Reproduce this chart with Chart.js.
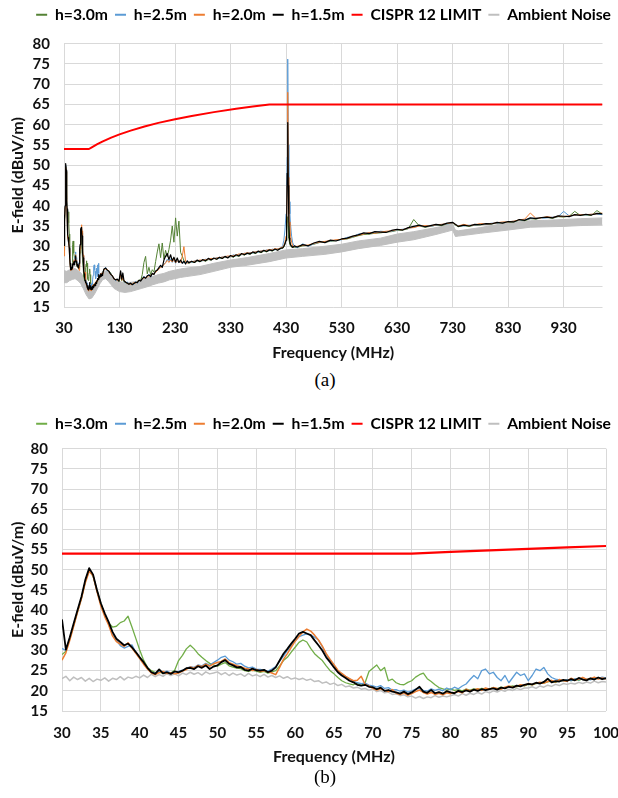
<!DOCTYPE html>
<html><head><meta charset="utf-8">
<script src="https://cdn.jsdelivr.net/npm/chart.js@4.4.1/dist/chart.umd.min.js"></script>
<style>
html,body{margin:0;padding:0;background:#fff;}
body{width:618px;height:798px;position:relative;overflow:hidden;}
.box{position:absolute;left:0;width:618px;}
.cap{position:absolute;left:0;width:650px;text-align:center;font-family:"Liberation Serif","Times New Roman",serif;font-size:19px;line-height:22px;color:#000;}
</style></head><body>
<div class="box" style="top:0;height:365px"><canvas id="ca"></canvas></div>
<div class="cap" style="top:369px">(a)</div>
<div class="box" style="top:409px;height:360px"><canvas id="cb"></canvas></div>
<div class="cap" style="top:766px">(b)</div>
<script>
// ---------- tick labels ----------
const xTicksA = [30,130,230,330,430,530,630,730,830,930];
const xTicksB = [30,35,40,45,50,55,60,65,70,75,80,85,90,95,100];
const yTicks = [15,20,25,30,35,40,45,50,55,60,65,70,75,80];

// ---------- (b) 30-100 MHz sweep ----------
const freqB = [
30,30.5,31,31.5,32,32.5,33,33.5,34,34.5,
35,35.5,36,36.5,37,37.5,38,38.5,39,39.5,
40,40.5,41,41.5,42,42.5,43,43.5,44,44.5,
45,45.5,46,46.5,47,47.5,48,48.5,49,49.5,
50,50.5,51,51.5,52,52.5,53,53.5,54,54.5,
55,55.5,56,56.5,57,57.5,58,58.5,59,59.5,
60,60.5,61,61.5,62,62.5,63,63.5,64,64.5,
65,65.5,66,66.5,67,67.5,68,68.5,69,69.5,
70,70.5,71,71.5,72,72.5,73,73.5,74,74.5,
75,75.5,76,76.5,77,77.5,78,78.5,79,79.5,
80,80.5,81,81.5,82,82.5,83,83.5,84,84.5,
85,85.5,86,86.5,87,87.5,88,88.5,89,89.5,
90,90.5,91,91.5,92,92.5,93,93.5,94,94.5,
95,95.5,96,96.5,97,97.5,98,98.5,99,99.5,
100];
const h30B = [
29.0,29.8,32.8,36.2,39.6,42.9,47.0,49.8,48.4,44.9,
41.6,39.0,36.8,35.8,36.0,36.9,37.3,38.5,35.8,33.0,
30.1,27.6,25.8,25.0,24.5,24.7,24.3,24.6,24.4,25.1,
27.5,28.8,30.4,31.3,30.4,29.2,28.3,27.5,26.8,26.4,
26.1,26.6,27.0,26.2,25.9,25.6,25.5,25.0,24.8,25.1,
24.9,24.6,24.8,24.4,24.7,25.0,26.2,27.5,28.3,29.6,
30.8,32.0,32.6,32.1,30.5,29.2,28.3,27.5,26.2,25.0,
24.2,23.3,22.5,22.0,21.7,21.5,21.9,21.3,22.0,24.8,
25.6,26.4,25.0,25.8,22.5,22.9,22.0,21.6,21.5,22.1,
22.5,23.4,24.0,24.4,23.0,22.3,21.5,20.8,20.5,20.2,
20.5,20.1,20.3,20.0,20.4,20.2,20.5,20.3,20.6,20.4,
20.5,20.8,20.5,20.9,20.7,21.0,21.2,21.0,21.4,21.2,
21.6,21.5,21.8,22.0,21.9,22.2,22.4,22.1,22.6,22.4,
22.7,22.5,22.9,22.6,23.0,22.8,23.1,22.9,23.2,23.0,
23.3];
const h25B = [
30.5,30.0,33.0,36.4,39.8,43.0,47.2,50.0,48.6,44.8,
41.4,38.8,36.6,34.0,32.5,31.2,30.6,31.0,31.4,29.5,
28.1,26.9,25.6,24.5,24.4,24.8,24.5,24.9,24.4,24.7,
24.8,25.1,25.5,26.0,25.8,26.4,26.2,26.8,26.3,27.0,
27.6,28.3,28.6,27.6,27.2,26.6,26.8,26.1,25.7,25.9,
25.4,25.3,25.1,24.9,25.4,26.0,27.3,28.6,30.0,31.2,
32.4,33.4,33.8,34.1,33.8,33.3,32.6,30.9,29.0,27.6,
26.3,25.0,24.2,23.5,23.0,22.4,22.0,21.8,21.9,21.4,
21.2,20.9,21.3,20.6,20.8,20.2,20.3,19.9,20.2,19.7,
20.0,20.4,20.6,20.1,19.9,20.5,20.1,20.4,20.0,20.7,
20.3,20.9,20.5,21.2,21.7,22.8,23.8,23.0,25.0,25.4,
24.2,24.6,23.3,22.5,23.8,22.0,23.3,24.6,23.8,24.2,
22.5,23.8,25.4,25.0,25.8,24.2,23.3,22.9,22.7,22.4,
22.8,22.5,23.0,22.7,23.2,22.9,22.7,23.2,23.0,23.4,
23.2];
const h20B = [
27.6,29.4,32.5,36.0,39.5,42.8,46.8,49.6,48.5,44.6,
41.0,38.4,36.3,33.6,32.2,31.6,31.0,31.9,30.6,29.3,
28.0,26.6,25.4,24.4,24.0,24.5,24.8,24.3,24.5,24.2,
24.4,24.9,25.3,25.9,25.6,26.3,26.0,26.6,26.1,26.7,
27.0,27.3,27.9,27.0,26.6,26.2,26.0,25.6,25.4,25.0,
25.3,24.8,25.0,24.7,24.4,24.0,25.8,27.8,29.2,30.8,
32.3,33.5,34.6,35.3,34.8,33.8,32.6,31.1,29.2,27.8,
26.5,25.1,24.3,23.6,23.0,22.5,22.6,23.6,21.6,21.2,
20.6,20.2,20.5,20.1,19.8,20.3,19.4,19.1,19.5,18.9,
19.3,19.8,20.2,19.6,19.2,19.6,19.1,19.4,19.0,19.5,
19.3,19.6,19.8,19.5,20.4,20.0,20.2,20.5,20.1,20.7,
20.4,20.8,20.6,20.4,20.9,21.2,20.9,21.1,21.5,21.3,
21.8,21.5,21.9,22.1,21.9,22.3,22.6,22.2,22.8,22.5,
22.4,23.1,22.7,22.9,23.3,22.8,23.0,23.4,22.9,23.2,
23.0];
const h15B = [
37.7,30.2,33.3,36.7,40.0,43.3,47.5,50.4,48.8,45.0,
41.7,39.2,37.1,34.6,32.9,32.1,31.3,31.7,30.8,29.6,
28.3,27.1,25.7,24.6,24.2,25.3,24.3,24.6,24.2,24.8,
24.6,25.0,25.6,25.7,25.4,26.1,25.7,26.3,25.4,26.0,
26.3,27.1,27.6,26.7,26.3,25.8,25.9,25.2,25.0,25.5,
25.1,25.0,25.2,24.6,25.0,25.8,27.5,29.2,30.4,31.7,
32.9,34.2,34.6,34.2,33.8,32.5,31.3,30.0,28.3,27.1,
25.8,24.6,23.8,23.2,22.5,22.1,21.5,21.3,21.5,21.0,
20.9,20.4,20.8,20.0,20.2,19.8,19.6,19.3,19.8,19.2,
19.6,20.3,21.0,19.8,19.5,20.2,19.4,19.7,19.3,19.9,
19.6,19.4,20.0,19.7,20.1,19.8,20.3,20.0,20.4,20.2,
20.4,20.6,20.3,20.8,20.6,21.0,20.8,21.3,21.1,21.5,
21.7,21.6,22.0,21.8,22.2,23.0,22.1,22.4,22.3,22.7,
22.5,22.9,22.6,23.2,22.8,22.6,23.1,22.8,23.3,22.9,
23.1];
const ambB = [
23.0,23.6,22.5,23.4,22.8,23.3,22.4,23.1,22.3,22.9,
22.6,23.2,22.4,23.1,22.8,23.5,22.7,23.4,23.1,23.6,
23.2,23.9,23.3,24.1,23.5,24.0,23.6,24.3,23.8,24.2,
23.7,24.4,24.0,24.6,24.1,24.5,23.9,24.7,24.2,24.4,
24.7,24.0,24.5,23.8,24.4,23.9,24.2,23.6,24.3,23.7,
24.0,23.5,24.1,23.4,23.8,23.3,23.7,23.1,23.5,22.9,
23.2,22.8,23.1,22.6,22.9,22.3,22.5,21.9,22.2,21.6,
21.9,21.3,21.6,21.0,21.2,20.7,20.9,20.4,20.6,20.1,
20.5,19.8,20.1,19.5,19.7,19.1,19.3,18.8,19.0,18.5,
18.7,18.2,18.6,18.1,18.5,18.3,18.8,18.4,18.7,18.5,
18.8,19.1,18.7,19.3,18.9,19.4,19.1,19.6,19.2,19.8,
19.5,20.0,19.7,20.2,19.9,20.4,20.1,20.6,20.3,20.7,
20.7,21.0,20.6,21.2,20.9,21.4,21.1,21.6,21.3,21.8,
21.6,21.9,21.7,22.1,21.8,22.2,21.9,22.4,22.0,22.3,
22.2];

// ---------- (a) continuation 100-1000 MHz ----------
const freqAt = [
102,105,108,111,114,117,120,123,126,129,
132,134,136,138,
141,144,147,150,153,156,159,162,165,168,
171,174,177,180,183,186,189,192,195,198,
201,204,207,210,213,216,219,222,225,228,
231,234,237,240,243,246,249,252,
255,
260,265,270,275,280,285,290,295,300,305,
310,315,320,325,330,335,340,345,350,355,
360,365,370,375,380,385,390,395,400,405,
410,415,420,
424,426,428,
430,431,432,433,434,435,436,437,438,
440,442,445,
450,460,470,480,490,500,510,520,530,540,
550,560,570,580,590,600,610,620,630,640,
650,660,670,680,690,700,710,720,730,740,
750,760,770,780,790,800,810,820,830,840,
850,860,870,880,890,900,910,920,930,940,
950,960,970,980,990,1000];
const h30At = [
24.3,24.5,24.0,23.9,23.4,22.6,22.1,21.6,21.8,21.3,
22.5,21.5,22.0,21.2,
21.1,20.8,20.6,20.7,20.6,20.9,21.0,21.2,21.7,21.5,
23.0,26.0,27.5,23.2,24.8,23.0,24.2,23.6,26.2,28.6,
30.6,27.2,30.8,26.8,29.0,27.4,29.2,31.5,35.0,31.0,
37.0,32.5,36.2,28.5,27.6,26.4,26.0,26.1,
25.8,
26.1,26.0,26.3,26.2,26.5,26.3,26.7,26.6,27.0,26.8,
27.1,27.0,27.3,27.2,27.5,27.3,27.7,27.5,28.0,27.8,
28.2,28.0,28.4,28.2,28.6,28.4,28.8,28.6,29.0,28.8,
29.2,29.1,29.4,
29.5,29.8,30.5,
31.5,33.0,36.0,37.3,35.0,32.0,31.0,30.5,30.0,
29.8,29.9,29.7,
29.7,30.1,30.2,30.5,30.9,31.0,31.2,31.4,31.7,31.8,
32.2,32.6,32.9,33.0,33.2,33.3,33.5,33.6,33.9,34.0,
34.3,36.6,35.0,34.7,34.9,35.2,35.1,35.5,35.7,34.8,
35.1,34.9,35.2,35.3,35.4,35.5,35.7,35.8,35.9,36.0,
36.4,36.3,36.8,36.7,37.0,37.1,36.9,37.3,37.2,37.4,
38.6,37.6,37.7,37.6,38.8,37.9];
const h25At = [
24.2,24.8,23.9,23.6,23.3,22.5,22.2,21.5,21.7,21.6,
22.4,21.7,22.6,21.3,
21.0,21.2,20.5,20.7,20.8,20.6,21.3,20.9,21.4,21.7,
21.8,22.6,22.0,22.5,23.1,22.4,23.0,23.3,23.6,24.3,
24.4,25.0,25.1,25.6,26.0,26.8,26.2,26.9,26.0,26.7,
25.8,26.5,25.9,26.2,26.0,25.9,26.1,26.0,
26.2,
26.0,26.4,26.3,26.5,26.4,26.8,26.7,26.9,26.9,27.2,
27.0,27.4,27.3,27.5,27.4,27.9,27.6,28.0,27.9,28.3,
28.1,28.5,28.3,28.7,28.5,28.9,28.8,29.1,28.9,29.3,
29.1,29.4,29.3,
30.2,31.5,34.0,
38.0,42.0,52.0,76.2,55.0,45.0,41.0,38.0,35.5,
32.5,30.8,30.0,
29.6,30.6,30.0,30.6,31.0,31.1,31.3,31.5,31.6,32.2,
32.3,33.0,33.1,33.3,33.4,33.7,33.6,33.7,34.0,34.2,
34.4,34.7,35.0,35.0,34.9,35.2,35.4,35.5,35.7,35.1,
35.0,35.2,35.2,35.5,35.4,35.7,35.7,35.9,36.0,36.2,
36.4,36.6,36.8,37.0,36.9,37.0,37.2,37.3,38.6,37.5,
37.6,37.8,37.7,37.9,37.9,37.8];
const h20At = [
24.3,24.4,24.3,23.7,23.0,22.8,21.9,21.8,21.6,21.5,
22.8,21.6,22.3,21.4,
21.2,20.8,20.7,20.6,20.7,21.0,20.9,21.2,21.5,21.6,
21.9,22.2,22.3,22.4,22.7,22.8,23.1,23.2,23.5,24.0,
24.3,24.8,25.0,25.4,25.9,26.5,26.0,26.6,26.1,26.9,
25.9,26.4,26.2,26.0,27.5,29.9,26.2,25.8,
26.1,
26.2,26.3,26.4,26.6,26.5,26.7,26.8,27.0,26.9,27.1,
27.2,27.3,27.4,27.6,27.5,27.7,27.8,28.1,28.0,28.2,
28.4,28.3,28.5,28.6,28.7,28.8,28.9,29.0,29.2,29.1,
29.4,29.3,29.6,
29.8,30.2,31.0,
32.5,35.0,45.0,68.0,47.0,38.0,35.0,36.0,32.5,
31.0,30.0,29.9,
30.0,30.2,30.3,30.7,31.0,31.2,31.4,31.6,31.7,31.9,
32.4,32.7,33.0,33.4,33.2,33.5,33.7,33.8,34.1,34.1,
34.5,34.6,35.0,35.1,35.0,35.3,35.4,35.6,35.8,35.0,
35.4,35.1,35.3,35.6,35.5,35.6,35.8,36.0,36.0,36.2,
36.5,36.7,38.2,36.9,37.0,37.3,37.1,37.4,37.3,37.5,
37.7,37.8,37.8,37.9,38.0,38.2];
const h15At = [
24.4,24.6,24.1,23.8,23.1,22.7,22.0,21.7,21.9,21.4,
23.9,21.9,23.4,21.5,
21.1,20.9,20.6,20.9,20.5,20.8,21.1,21.0,21.6,21.4,
22.0,22.4,22.1,22.7,22.9,22.5,23.3,23.0,23.9,24.1,
24.7,25.3,24.8,26.6,27.5,28.2,26.7,27.9,26.4,27.3,
26.1,27.1,26.0,26.6,25.8,26.3,25.6,26.4,
25.9,
26.3,26.0,26.6,26.2,26.7,26.4,27.0,26.6,27.1,26.8,
27.3,27.0,27.5,27.1,27.7,27.4,27.9,27.6,28.2,27.9,
28.3,28.1,28.6,28.3,28.8,28.5,29.0,28.7,29.1,28.9,
29.3,29.0,29.5,
29.6,30.0,30.6,
31.5,36.0,48.0,60.5,45.0,36.0,32.0,31.0,30.4,
30.0,29.7,30.1,
29.8,30.4,30.1,30.8,31.2,30.9,31.5,31.3,31.8,32.0,
32.5,32.8,33.3,33.1,33.6,33.5,33.4,33.9,34.2,34.0,
34.6,34.9,35.2,34.8,35.1,35.4,35.2,35.7,35.9,34.9,
35.2,35.0,35.4,35.3,35.6,35.5,35.9,35.7,36.1,36.0,
36.6,36.4,37.0,36.8,37.1,37.2,37.0,37.5,37.4,37.3,
37.8,37.6,37.9,37.7,38.1,38.0];

// ---------- (a) ambient noise band (upper / lower edge) ----------
const ambAFreq = [30,35,40,45,50,55,60,65,70,75,80,85,90,95,100,105,110,115,120,130,140,150,160,170,180,190,200,210,220,230,240,250,275,300,330,360,400,430,460,500,530,560,600,630,660,700,725,730,735,740,780,830,870,900,930,960,1000];
const ambAHigh = [24.0,23.8,24.2,24.3,24.5,24.0,23.5,22.5,21.0,20.0,20.0,20.8,21.8,23.0,23.8,23.9,23.5,22.8,22.0,21.3,21.0,21.1,21.3,21.8,22.2,22.5,23.0,23.3,23.8,24.1,24.4,24.6,25.0,25.8,26.6,27.2,28.2,29.1,29.4,30.0,30.5,31.3,32.0,33.0,33.6,34.6,35.3,35.4,34.0,33.8,34.6,35.8,36.3,36.4,36.6,36.8,37.0];
const ambALow  = [21.0,21.0,21.5,21.8,22.0,21.5,20.8,19.5,18.0,17.0,17.2,18.2,19.5,20.8,21.8,22.0,21.3,20.5,19.6,18.8,18.6,18.8,19.2,19.6,20.0,20.5,20.9,21.2,21.7,22.0,22.3,22.5,23.0,23.8,24.8,25.3,26.2,27.1,27.5,28.0,28.6,29.4,30.2,31.0,31.6,32.9,33.8,34.0,32.4,32.5,33.2,34.0,34.7,34.8,34.9,35.1,35.3];

// ---------- CISPR 12 limit ----------
const limAFreq = [30,75,80,90,100,115,130,150,175,200,230,260,300,340,370,400,1000];
const limAVal  = [54,54,54.42,55.2,55.89,56.81,57.61,58.55,59.57,60.45,61.36,62.17,63.11,63.93,64.49,65,65];
const limBFreq = [30,75,80,85,90,95,100];
const limBVal  = [54,54,54.42,54.82,55.2,55.55,55.89];

const labels = ['h=3.0m','h=2.5m','h=2.0m','h=1.5m','CISPR 12 LIMIT','Ambient Noise'];

// ---------- helpers ----------
const FONT = 'Lato, "Open Sans", "DejaVu Sans", sans-serif';
const pts = (xs, ys) => xs.map((x, i) => ({x: x, y: ys[i]}));
function ds(label, data, color, width, order, extra) {
  return Object.assign({label, data, borderColor: color, backgroundColor: color, borderWidth: width,
    pointRadius: 0, pointHoverRadius: 0, tension: 0, fill: false, order, borderJoinStyle: 'round'}, extra || {});
}
const legendGap = {
  id: 'legendGap',
  beforeLayout(chart, args, opts) {
    const lg = chart.legend;
    if (lg && !lg._gapDone) {
      const fit = lg.fit;
      lg.fit = function () { fit.call(this); this.height += (opts.gap || 0); };
      lg._gapDone = true;
    }
  }
};
function build(id, p) {
  const tickFont = {family: FONT, size: 15, weight: 'bold'};
  const titleFont = {family: FONT, size: 16, weight: 'bold'};
  const legendFont = {family: FONT, size: 15.7, weight: 'bold'};
  return new Chart(document.getElementById(id), {
    type: 'line',
    data: {datasets: p.datasets},
    plugins: [legendGap],
    options: {
      responsive: true, maintainAspectRatio: false, animation: false, events: [],
      parsing: false, normalized: true,
      layout: {padding: 0},
      plugins: {
        legendGap: {gap: p.gap},
        tooltip: {enabled: false},
        legend: {
          display: true, position: 'top', align: 'end',
          labels: {
            font: legendFont, color: '#000', boxWidth: 11, boxHeight: 2, padding: 7,
            sort: (a, b) => a.datasetIndex - b.datasetIndex,
            generateLabels: chart => Chart.defaults.plugins.legend.labels.generateLabels(chart)
              .filter(it => it.text).map(it => Object.assign(it, {lineWidth: 0}))
          }
        }
      },
      scales: {
        x: {
          type: 'linear', min: p.xMin, max: p.xMax,
          afterBuildTicks: s => { s.ticks = p.xTicks.map(v => ({value: v})); },
          afterFit: s => { s.height = 58; s.paddingLeft = 0; s.paddingRight = 0; },
          grid: {color: '#D9D9D9', lineWidth: 1, drawTicks: false},
          border: {display: false},
          ticks: {font: tickFont, color: '#111', padding: p.xPad, maxRotation: 0, autoSkip: false},
          title: {display: true, text: 'Frequency (MHz)', font: titleFont, color: '#111', padding: {top: 0, bottom: 3}}
        },
        y: {
          type: 'linear', min: 15, max: 80,
          afterBuildTicks: s => { s.ticks = yTicks.map(v => ({value: v})); },
          afterFit: s => { s.width = p.yW; },
          grid: {color: '#D9D9D9', lineWidth: 1, drawTicks: false},
          border: {display: false},
          ticks: {font: tickFont, color: '#111', padding: 14, autoSkip: false},
          title: {display: true, text: 'E-field (dBuV/m)', font: titleFont, color: '#111', padding: {top: 8, bottom: 0}}
        },
        yR: {
          type: 'linear', position: 'right', display: true,
          grid: {display: false}, border: {display: false}, ticks: {display: false},
          afterFit: s => { s.width = p.rW; }
        }
      }
    }
  });
}

// ---------- chart (a) ----------
build('ca', {
  xMin: 30, xMax: 1000, xTicks: xTicksA, xPad: 12, yW: 64, rW: 15.5, gap: 11,
  datasets: [
    ds(labels[0], pts(freqB, h30B).concat(pts(freqAt, h30At)), '#548235', 1, 4),
    ds(labels[1], pts(freqB, h25B).concat(pts(freqAt, h25At)), '#5B9BD5', 1, 3),
    ds(labels[2], pts(freqB, h20B).concat(pts(freqAt, h20At)), '#ED7D31', 1, 2),
    ds(labels[3], pts(freqB, h15B).concat(pts(freqAt, h15At)), '#000000', 1.2, 1),
    ds(labels[4], pts(limAFreq, limAVal), '#FF0000', 2, 0),
    ds(labels[5], pts(ambAFreq, ambAHigh), '#BFBFBF', 1, 5, {fill: 6}),
    ds('', pts(ambAFreq, ambALow), '#BFBFBF', 1, 6)
  ]
});

// ---------- chart (b) ----------
build('cb', {
  xMin: 30, xMax: 100, xTicks: xTicksB, xPad: 13, yW: 62, rW: 12, gap: 7,
  datasets: [
    ds(labels[0], pts(freqB, h30B), '#70AD47', 1.3, 4),
    ds(labels[1], pts(freqB, h25B), '#5B9BD5', 1.3, 3),
    ds(labels[2], pts(freqB, h20B), '#ED7D31', 1.5, 2),
    ds(labels[3], pts(freqB, h15B), '#000000', 1.8, 1),
    ds(labels[4], pts(limBFreq, limBVal), '#FF0000', 2.2, 0),
    ds(labels[5], pts(freqB, ambB), '#BFBFBF', 1.5, 5)
  ]
});
</script>
</body></html>
